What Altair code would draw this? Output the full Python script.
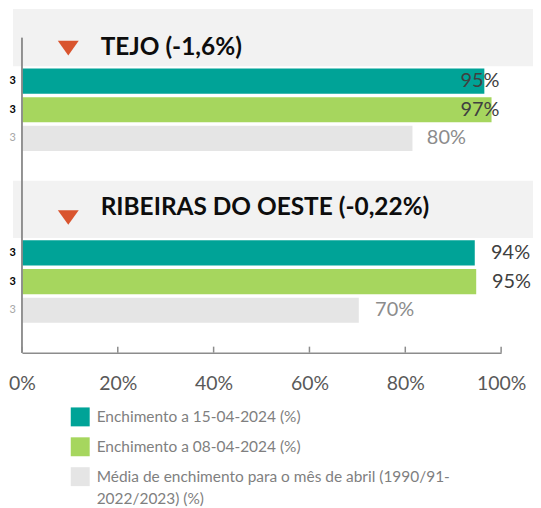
import altair as alt
import pandas as pd

# ---- data ----
regions = ["TEJO", "RIBEIRAS DO OESTE"]
weekly_change = ["-1,6%", "-0,22%"]
series = [
    "Enchimento a 15-04-2024 (%)",
    "Enchimento a 08-04-2024 (%)",
    "Média de enchimento para o mês de abril (1990/91-2022/2023) (%)",
]
fill_2024_04_15 = [96.5, 94.5]
fill_2024_04_08 = [98.0, 94.8]
april_average = [81.5, 70.3]
label_text = [["95%", "97%", "80%"], ["94%", "95%", "70%"]]
label_anchor = [[91.5, 91.5, 84.5], [97.9, 98.1, 73.7]]
x_ticks = [0, 20, 40, 60, 80, 100]
colors = ["#00A397", "#A6D65E", "#E5E5E5"]

# ---- tables built from the arrays ----
ROWS_PER_REGION = 6
bar_rows = []
head_rows = []
title_dy = [1.35, 0.95]
marker_dy = [1.37, 1.28]
for k, reg in enumerate(regions):
    base = ROWS_PER_REGION * k
    head_rows.append({
        "region": reg,
        "title": f"{reg} ({weekly_change[k]})",
        "band_y": base, "band_y2": base + 2,
        "title_y": base + title_dy[k], "marker_y": base + marker_dy[k],
    })
    vals = [fill_2024_04_15[k], fill_2024_04_08[k], april_average[k]]
    for j, s in enumerate(series):
        row = base + 2 + j
        bar_rows.append({
            "region": reg, "series": s, "value": vals[j], "start": 0,
            "y": row + 0.08, "y2": row + 0.96, "yc": row + 0.52,
            "label": label_text[k][j], "label_x": label_anchor[k][j],
            "avg": j == 2,
        })
bars_df = pd.DataFrame(bar_rows)
head_df = pd.DataFrame(head_rows)
ticks_df = pd.DataFrame({"tick": x_ticks})

W, H = 481, 345
yscale = alt.Scale(domain=[0, 12], reverse=True, nice=False, zero=False)
xscale = alt.Scale(domain=[0, 100], nice=False, zero=False)
xaxis = alt.Axis(
    values=x_ticks, labelExpr="datum.value + '%'", ticks=False, grid=False,
    title=None, domainColor="#8C8C8C", domainWidth=1.5, labelFlush=False,
    labelFont="Lato", labelFontSize=19.5, labelColor="#595959", labelPadding=22,
)

band = alt.Chart(head_df).mark_rect(color="#F2F2F2").encode(
    x=alt.value(-9), x2=alt.value(W + 32),
    y=alt.Y("band_y:Q", scale=yscale, axis=None), y2="band_y2:Q",
)

vline = alt.Chart(head_df).mark_rule(color="#8C8C8C", strokeWidth=1.5).encode(
    x=alt.value(0), y=alt.value(29), y2=alt.value(H),
)

legend = alt.Legend(
    title=None, orient="none", legendX=49, legendY=400, direction="vertical",
    symbolType="square", symbolSize=361, symbolStrokeWidth=0,
    labelFont="Lato", labelFontSize=15.5, labelColor="#7F7F7F",
    labelOffset=7, rowPadding=11, labelLimit=600, padding=0,
    labelExpr="split(replace(datum.label, '91-2022', '91-|2022'), '|')",
)

bars = alt.Chart(bars_df).mark_rect().encode(
    x=alt.X("start:Q", scale=xscale, axis=xaxis), x2="value:Q",
    y=alt.Y("y:Q", scale=yscale, axis=None), y2="y2:Q",
    color=alt.Color("series:N", scale=alt.Scale(domain=series, range=colors),
                    legend=legend),
)

labels = alt.Chart(bars_df).mark_text(
    align="left", baseline="middle", font="Lato", fontSize=20
).encode(
    x=alt.X("label_x:Q", scale=xscale, axis=xaxis),
    y=alt.Y("yc:Q", scale=yscale, axis=None),
    text="label:N",
    color=alt.condition(alt.datum.avg, alt.value("#8C8C8C"), alt.value("#404040")),
)

cut_main = alt.Chart(bars_df).transform_filter("!datum.avg").mark_text(
    align="right", baseline="middle", font="Lato", fontSize=11,
    fontWeight="bold", color="#000000", text="3",
).encode(x=alt.value(-6), y=alt.Y("yc:Q", scale=yscale, axis=None))

cut_avg = alt.Chart(bars_df).transform_filter("datum.avg").mark_text(
    align="right", baseline="middle", font="Lato", fontSize=11,
    color="#A6A6A6", text="3",
).encode(x=alt.value(-6), y=alt.Y("yc:Q", scale=yscale, axis=None))

marker = alt.Chart(head_df).mark_point(
    shape="M-1,-0.7L1,-0.7L0,0.7Z", size=441, filled=True,
    color="#D9542E", opacity=1,
).encode(x=alt.value(46.5), y=alt.Y("marker_y:Q", scale=yscale, axis=None))

titles = alt.Chart(head_df).mark_text(
    align="left", baseline="middle", font="Lato", fontSize=24.5,
    fontWeight="bold", color="#0D0D0D",
).encode(x=alt.value(79), y=alt.Y("title_y:Q", scale=yscale, axis=None), text="title:N")

tick_marks = alt.Chart(ticks_df).mark_rule(color="#8C8C8C", strokeWidth=1.5).encode(
    x=alt.X("tick:Q", scale=xscale, axis=xaxis), y=alt.value(H - 6), y2=alt.value(H),
)

chart = alt.layer(
    band, bars, labels, cut_main, cut_avg, marker, titles, vline, tick_marks
).properties(
    width=W, height=H, padding=0,
).configure(
    view=alt.ViewConfig(stroke=None),
    style={"guide-label": {"lineHeight": 22}},
)

chart.save("out.html", embed_options={"renderer": "svg", "actions": False})
